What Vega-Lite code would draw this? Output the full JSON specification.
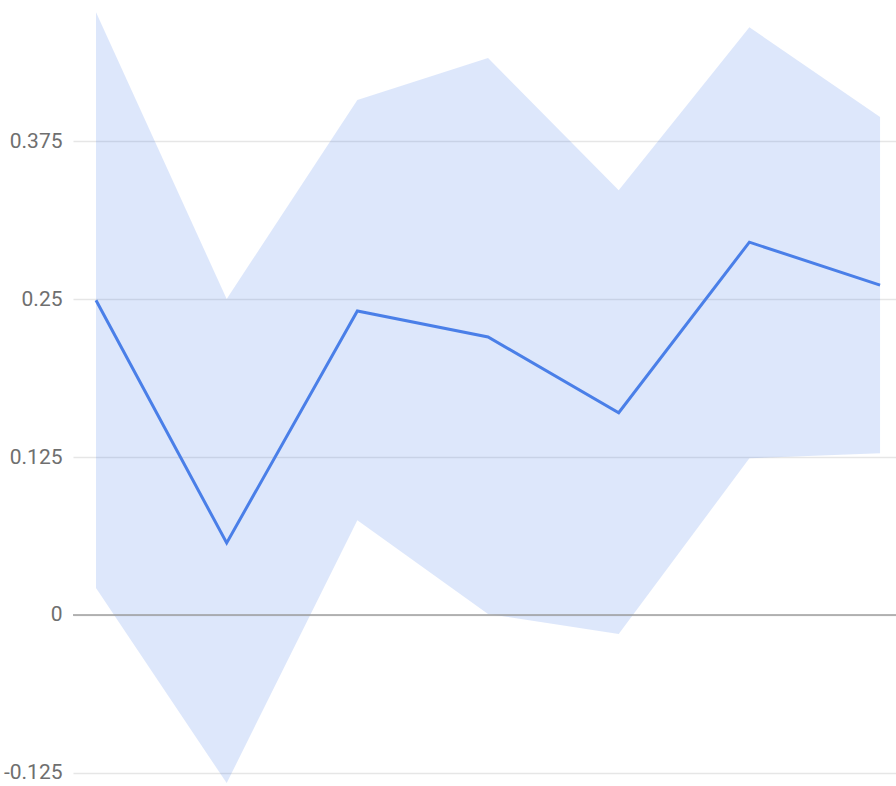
{
  "$schema": "https://vega.github.io/schema/vega-lite/v6.json",
  "width": 823,
  "height": 786,
  "autosize": {"type": "none"},
  "padding": {"left": 73, "top": 0, "right": 0, "bottom": 0},
  "background": "white",
  "config": {"view": {"stroke": null}, "font": "Roboto"},
  "data": {"values": [
    {"i": 0, "v": 0.249, "lo": 0.0214, "hi": 0.477},
    {"i": 1, "v": 0.057, "lo": -0.133, "hi": 0.25},
    {"i": 2, "v": 0.2405, "lo": 0.075, "hi": 0.4075},
    {"i": 3, "v": 0.22, "lo": 0.0008, "hi": 0.4407},
    {"i": 4, "v": 0.16, "lo": -0.015, "hi": 0.336},
    {"i": 5, "v": 0.295, "lo": 0.124, "hi": 0.465},
    {"i": 6, "v": 0.261, "lo": 0.128, "hi": 0.394}
  ]},
  "layer": [
    {
      "mark": {"type": "area", "color": "#4a7fe8", "opacity": 0.19},
      "encoding": {
        "x": {"field": "i", "type": "quantitative", "scale": {"domain": [-0.176, 6.122], "nice": false, "zero": false}, "axis": null},
        "y": {"field": "lo", "type": "quantitative", "scale": {"domain": [-0.1353, 0.4866], "nice": false, "zero": false},
          "axis": {"values": [-0.125, 0, 0.125, 0.25, 0.375], "title": null, "domain": false, "ticks": false, "labelFontSize": 21, "labelColor": "#6f6f6f", "labelPadding": 11, "gridColor": "#e6e6e6", "gridWidth": 1.5, "labelExpr": "datum.value === 0 ? '0' : replace(format(datum.value, '.3~f'), '\u2212', '-')"}},
        "y2": {"field": "hi"}
      }
    },
    {
      "data": {"values": [{"z": 0}]},
      "mark": {"type": "rule", "color": "#9e9e9e", "strokeWidth": 1.5},
      "encoding": {"y": {"field": "z", "type": "quantitative"}}
    },
    {
      "mark": {"type": "line", "color": "#4a7fe8", "strokeWidth": 3},
      "encoding": {
        "x": {"field": "i", "type": "quantitative"},
        "y": {"field": "v", "type": "quantitative"}
      }
    }
  ]
}
